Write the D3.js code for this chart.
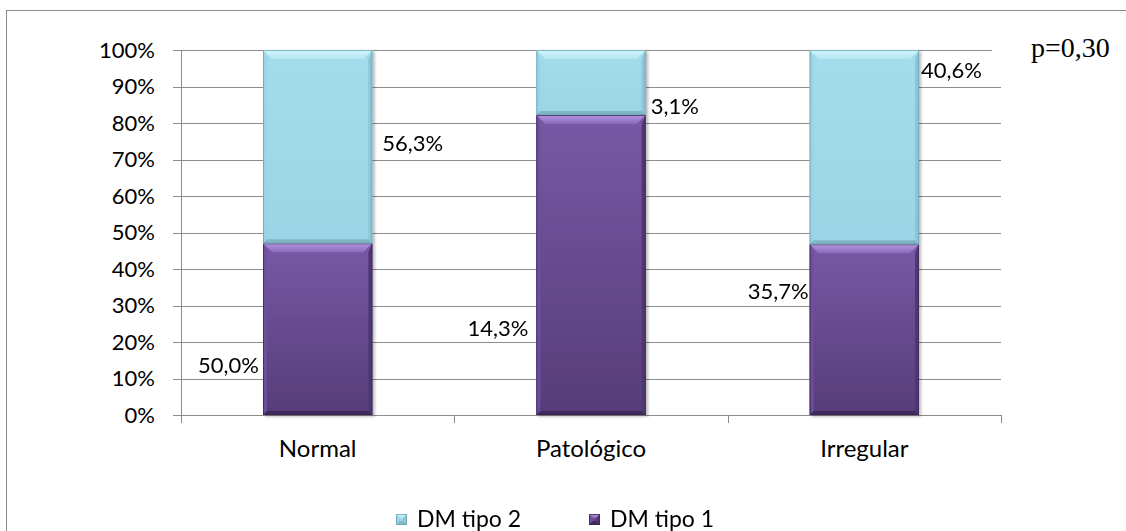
<!DOCTYPE html>
<html>
<head>
<meta charset="utf-8">
<script src="https://cdn.jsdelivr.net/npm/d3@7"></script>
<style>
  html, body { margin: 0; padding: 0; background: #fff; }
  svg { display: block; font-family: Lato, "Open Sans", sans-serif; }
</style>
</head>
<body>
<svg id="chart" width="1126" height="531"></svg>
<script>
// Glycaemic-control profile by diabetes type (labels show each group's share)
const categories = ["Normal", "Patológico", "Irregular"];
const dmTipo1 = [50.0, 14.3, 35.7];
const dmTipo2 = [56.3, 3.1, 40.6];
const seriesNames = ["DM tipo 2", "DM tipo 1"];
const yTickValues = [0, 10, 20, 30, 40, 50, 60, 70, 80, 90, 100];
const pValueText = "p=0,30";

const svg = d3.select("#chart");
const W = 1126, H = 531;
const plot = { left: 181, right: 1001, top: 50, bottom: 415 };
const fmt = v => d3.format(".1f")(v).replace(".", ",") + "%";
const sans = "Lato, 'Open Sans', sans-serif";

// outer chart frame
svg.append("rect")
  .attr("x", 6.5).attr("y", 10.5)
  .attr("width", W).attr("height", H)
  .attr("fill", "#fff").attr("stroke", "#8a8a8a").attr("stroke-width", 1);

// drop shadow for the bars
const defs = svg.append("defs");
const shadow = defs.append("filter").attr("id", "barShadow")
  .attr("x", "-10%").attr("y", "-5%").attr("width", "130%").attr("height", "115%");
shadow.append("feDropShadow").attr("dx", 2).attr("dy", 1.5)
  .attr("stdDeviation", 1.6).attr("flood-color", "#000").attr("flood-opacity", 0.28);

function vGrad(id, stops) {
  const g = defs.append("linearGradient").attr("id", id)
    .attr("x1", 0).attr("y1", 0).attr("x2", 0).attr("y2", 1);
  stops.forEach(([o, c]) => g.append("stop").attr("offset", o).attr("stop-color", c));
}
vGrad("blueBase", [[0, "#a3dcea"], [1, "#9bd5e5"]]);
vGrad("purpleBase", [[0, "#7858a5"], [1, "#563d79"]]);
vGrad("blueTop", [[0, "#d4f6fc"], [1, "#b2e6f2"]]);
vGrad("purpleTop", [[0, "#b596e2"], [1, "#8a68bb"]]);

const palette = {
  "DM tipo 2": { base: "url(#blueBase)", top: "url(#blueTop)", left: "#9ad3e3", right: "#8cc5d5",
                 bottom: "#7fb5c4", stroke: "#6ea4b3" },
  "DM tipo 1": { base: "url(#purpleBase)", top: "url(#purpleTop)", left: "#6e50a0", right: "#4f3870",
                 bottom: "#3f2b5c", stroke: "#3c2856" }
};

// scales
const x = d3.scaleBand().domain(categories)
  .range([plot.left, plot.right]).paddingInner(0.6).paddingOuter(0.3);
const y = d3.scaleLinear().domain([0, 1]).range([plot.bottom, plot.top]);

// gridlines
svg.append("g").selectAll("line").data(yTickValues).join("line")
  .attr("x1", plot.left - 8).attr("x2", plot.right)
  .attr("y1", d => Math.round(y(d / 100)) + 0.5).attr("y2", d => Math.round(y(d / 100)) + 0.5)
  .attr("stroke", "#8c8c8c").attr("stroke-width", 1);

// y axis
const yAxis = svg.append("g").attr("transform", `translate(${plot.left},0)`)
  .call(d3.axisLeft(y).tickValues(yTickValues.map(v => v / 100))
    .tickFormat(d => Math.round(d * 100) + "%").tickSize(0).tickPadding(26));
yAxis.select(".domain").remove();
yAxis.selectAll("text").style("font-size", "22px").style("font-family", sans).attr("fill", "#000");
svg.append("line")
  .attr("x1", plot.left + 0.5).attr("x2", plot.left + 0.5)
  .attr("y1", plot.top).attr("y2", plot.bottom + 8)
  .attr("stroke", "#8c8c8c");

// x axis: category boundary ticks and labels
const boundaries = d3.range(categories.length + 1).map(i => plot.left + i * x.step());
svg.append("g").selectAll("line").data(boundaries).join("line")
  .attr("x1", d => Math.round(d) + 0.5).attr("x2", d => Math.round(d) + 0.5)
  .attr("y1", plot.bottom).attr("y2", plot.bottom + 8)
  .attr("stroke", "#8c8c8c");
const xAxis = svg.append("g").attr("transform", `translate(0,${plot.bottom})`)
  .call(d3.axisBottom(x).tickSize(0).tickPadding(25));
xAxis.select(".domain").remove();
xAxis.selectAll("text").style("font-size", "24px").style("font-family", sans).attr("fill", "#000");

// p-value text box (white fill sits over the grid end)
svg.append("rect").attr("x", 992).attr("y", 28).attr("width", 130).attr("height", 40).attr("fill", "#fff");
svg.append("text").attr("x", 1031).attr("y", 57)
  .style("font-family", "'Liberation Serif', 'Times New Roman', serif")
  .style("font-size", "28px").attr("fill", "#000").text(pValueText);

// stacked 100% bars
const rows = categories.map((c, i) => ({ cat: c, "DM tipo 1": dmTipo1[i], "DM tipo 2": dmTipo2[i] }));
const stacked = d3.stack().keys(["DM tipo 1", "DM tipo 2"]).offset(d3.stackOffsetExpand)(rows);

function bevelBox(g, x0, y0, w, h, pal, b) {
  const x1 = x0 + w, y1 = y0 + h;
  const bt = Math.min(b, h / 2), bs = Math.min(4, w / 2);
  g.append("rect").attr("x", x0).attr("y", y0).attr("width", w).attr("height", h).attr("fill", pal.base);
  g.append("polygon").attr("fill", pal.left).attr("opacity", 0.9)
    .attr("points", [[x0, y0], [x0 + bs, y0 + bt], [x0 + bs, y1 - bs], [x0, y1]].join(" "));
  g.append("polygon").attr("fill", pal.right)
    .attr("points", [[x1, y0], [x1 - bs, y0 + bt], [x1 - bs, y1 - bs], [x1, y1]].join(" "));
  g.append("polygon").attr("fill", pal.bottom)
    .attr("points", [[x0, y1], [x0 + bs, y1 - bs], [x1 - bs, y1 - bs], [x1, y1]].join(" "));
  g.append("polygon").attr("fill", pal.top)
    .attr("points", [[x0, y0], [x1, y0], [x1 - bt, y0 + bt], [x0 + bt, y0 + bt]].join(" "));
  g.append("rect").attr("x", x0 + 0.5).attr("y", y0 + 0.5).attr("width", w - 1).attr("height", h - 1)
    .attr("fill", "none").attr("stroke", pal.stroke).attr("stroke-width", 1).attr("opacity", 0.8);
}

const barsG = svg.append("g").attr("filter", "url(#barShadow)");
stacked.forEach(layer => {
  layer.forEach((seg, i) => {
    const cat = categories[i];
    const top = y(seg[1]), bot = y(seg[0]);
    bevelBox(barsG.append("g"), x(cat), top, x.bandwidth(), bot - top, palette[layer.key], 9);
  });
});

// data labels, placed beside the bars at staggered heights
const labelLayout = {
  "DM tipo 1": { side: "left", level: [0.137, 0.238, 0.338], gap: [4, 8, 1] },
  "DM tipo 2": { side: "right", level: [0.745, 0.847, 0.945], gap: [10, 5, 2] }
};
const labelValues = { "DM tipo 1": dmTipo1, "DM tipo 2": dmTipo2 };
Object.keys(labelLayout).forEach(key => {
  const lay = labelLayout[key];
  categories.forEach((cat, i) => {
    const left = lay.side === "left";
    svg.append("text")
      .attr("x", left ? x(cat) - lay.gap[i] : x(cat) + x.bandwidth() + lay.gap[i])
      .attr("y", y(lay.level[i]))
      .attr("dy", "0.35em")
      .attr("text-anchor", left ? "end" : "start")
      .style("font-size", "22px").style("font-family", sans).attr("fill", "#000")
      .text(fmt(labelValues[key][i]));
  });
});

// legend
const legendItems = [{ name: seriesNames[0], x: 396 }, { name: seriesNames[1], x: 589 }];
legendItems.forEach(it => {
  const g = svg.append("g");
  bevelBox(g, it.x, 514, 11, 11, palette[it.name], 4);
  svg.append("text").attr("x", it.x + 21).attr("y", 519).attr("dy", "0.35em")
    .style("font-size", "23px").style("font-family", sans).attr("fill", "#000")
    .text(it.name);
});
</script>
</body>
</html>
